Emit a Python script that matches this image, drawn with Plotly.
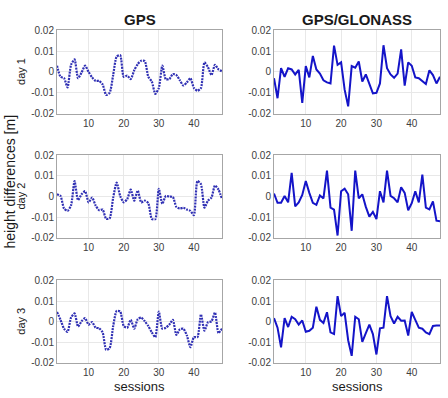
import plotly.graph_objects as go

sessions = list(range(1, 49))

gps_day1 = [0.003, -0.0023, -0.003, -0.0074, 0.0034, 0.006, -0.003, -0.0003, 0.003, 0.0,
            -0.0026, -0.0043, -0.0043, -0.006, -0.011, -0.010, -0.0015, 0.0074, 0.008, -0.0023,
            -0.0018, -0.0034, 0.0008, 0.0038, 0.0054, 0.0052, -0.0023, -0.0046, -0.0105, -0.0077,
            0.003, -0.0035, -0.0034, -0.001, -0.0015, -0.004, -0.0065, -0.005, -0.003, -0.0077,
            -0.009, -0.0077, 0.0046, 0.0023, -0.0015, 0.0034, 0.0012, 0.0003]
glo_day1 = [-0.003, -0.0126, 0.0018, -0.0023, 0.0018, 0.0012, -0.0012, 0.001, -0.0148, 0.0028,
            -0.0026, 0.0077, 0.0012, -0.0008, -0.004, -0.005, -0.0055, 0.0126, 0.0034, 0.0046,
            -0.0085, -0.0165, 0.0028, 0.002, 0.005, -0.0046, -0.0012, -0.006, -0.0103, -0.010,
            -0.0055, 0.0128, 0.0018, -0.0012, -0.0028, -0.0008, 0.0108, -0.0066, 0.0046, 0.003,
            -0.0026, -0.003, -0.0046, -0.0058, 0.0008, -0.0015, -0.0055, -0.0023]
gps_day2 = [0.0011, 0.0003, -0.0058, -0.0069, -0.0043, 0.0075, -0.0017, 0.0011, 0.0026, -0.0028,
            -0.0005, -0.0043, -0.0066, -0.0063, -0.0108, -0.0105, -0.0005, 0.0068, 0.0003, -0.0028,
            -0.0012, 0.0034, -0.002, 0.0029, -0.0028, -0.002, -0.0032, -0.0108, -0.011, 0.0038,
            -0.0035, 0.0003, 0.0, -0.0002, -0.005, -0.0058, -0.0054, -0.0063, -0.0069, -0.009,
            0.0075, 0.006, -0.0054, -0.002, -0.0005, 0.0054, 0.0034, -0.0012]
glo_day2 = [0.0015, -0.003, -0.003, 0.0003, -0.0028, 0.0115, -0.0048, -0.0028, 0.0008, 0.0075,
            0.0018, -0.003, -0.004, 0.0006, -0.0009, 0.0126, -0.0054, -0.0063, -0.0189, 0.0026,
            0.0038, 0.0011, -0.0166, 0.0126, -0.0009, 0.0011, -0.005, -0.0097, -0.0074, -0.0109,
            0.0026, -0.0028, 0.0126, 0.0003, -0.0008, -0.0028, 0.0045, 0.0018, -0.0066, -0.0032,
            0.0026, -0.0028, 0.0106, -0.0054, -0.0062, -0.0023, -0.0117, -0.012]
gps_day3 = [0.0047, 0.0009, -0.0034, -0.0049, 0.002, 0.004, -0.0024, 0.0002, 0.0017, -0.0014,
            -0.0002, -0.0029, -0.0032, -0.0052, -0.0136, -0.0128, -0.0021, 0.0052, 0.005, -0.0021,
            -0.0029, 0.0009, -0.0034, 0.0012, 0.002, 0.0002, -0.0021, -0.0052, -0.0075, 0.0049,
            -0.0034, -0.0029, -0.0014, 0.0009, -0.0064, -0.0037, -0.0034, -0.0067, -0.0124, -0.0075,
            -0.0075, 0.0035, -0.0044, -0.0003, 0.0002, 0.0044, -0.0055, -0.0034]
glo_day3 = [0.0017, -0.0029, -0.0125, 0.0017, -0.0026, 0.0024, 0.0012, -0.0014, 0.0006, -0.0049,
            -0.0044, -0.0029, 0.0073, 0.0009, -0.0006, 0.0046, -0.0052, -0.006, 0.0124, 0.0027,
            0.0043, -0.009, -0.0166, 0.0024, 0.0012, -0.0098, -0.0055, -0.0014, -0.006, -0.0159,
            -0.0032, -0.0029, 0.0124, 0.0027, -0.0009, 0.0024, 0.0005, 0.0006, -0.0067, 0.0047,
            0.0009, -0.0029, -0.0034, -0.0052, -0.006, -0.0021, -0.0018, -0.0018]

col_titles = ["GPS", "GPS/GLONASS"]
row_labels = ["day 1", "day 2", "day 3"]
y_ticks = [-0.02, -0.01, 0, 0.01, 0.02]
y_tick_text = ["-0.02", "-0.01", "0", "0.01", "0.02"]
x_ticks = [10, 20, 30, 40]

W, H = 448, 398
col_px = [(57, 222), (274, 440)]
row_px = [(25, 111), (154, 239), (283, 368)]

series = [[gps_day1, glo_day1], [gps_day2, glo_day2], [gps_day3, glo_day3]]

fig = go.Figure()
font_fam = "Liberation Sans, Arial, sans-serif"
idx = 0
for r in range(3):
    for c in range(2):
        idx += 1
        xa = "x" if idx == 1 else f"x{idx}"
        ya = "y" if idx == 1 else f"y{idx}"
        if c == 0:
            line = dict(color="#3030b4", width=2.2, dash="2px,1px", shape="spline", smoothing=0.6)
        else:
            line = dict(color="#1414c8", width=2)
        fig.add_trace(go.Scatter(x=sessions, y=series[r][c], mode="lines", line=line,
                                 xaxis=xa, yaxis=ya, showlegend=False))
        x0, x1 = col_px[c]
        y0, y1 = row_px[r]
        axcommon = dict(showline=True, mirror=True, linecolor="#a6a6a6", linewidth=1,
                        showgrid=True, gridcolor="#e8e8e8", gridwidth=1, zeroline=False,
                        ticks="", tickfont=dict(size=10, color="#404040", family=font_fam))
        fig.layout[f"xaxis{'' if idx == 1 else idx}"] = dict(
            domain=[x0 / W, x1 / W], anchor=ya, range=[1, 48], tickvals=x_ticks, **axcommon)
        fig.layout[f"yaxis{'' if idx == 1 else idx}"] = dict(
            domain=[1 - y1 / H, 1 - y0 / H], anchor=xa, range=[-0.02, 0.02],
            tickvals=y_ticks, ticktext=y_tick_text, **axcommon)

annotations = []
for c in range(2):
    cx = (col_px[c][0] + col_px[c][1]) / 2 / W
    annotations.append(dict(text="<b>" + col_titles[c] + "</b>", x=cx, y=1 - 14 / H,
                            xref="paper", yref="paper", showarrow=False,
                            font=dict(size=15, color="#1a1a1a", family=font_fam),
                            xanchor="center", yanchor="middle"))
    annotations.append(dict(text="sessions", x=cx, y=1 - 383 / H, xref="paper", yref="paper",
                            showarrow=False, font=dict(size=13, color="#1a1a1a", family=font_fam),
                            xanchor="center", yanchor="top"))
for r in range(3):
    cy = 1 - (row_px[r][0] + row_px[r][1]) / 2 / H
    annotations.append(dict(text=row_labels[r], x=21 / W, y=cy, xref="paper", yref="paper",
                            showarrow=False, textangle=-90,
                            font=dict(size=11, color="#1a1a1a", family=font_fam),
                            xanchor="center", yanchor="middle"))
annotations.append(dict(text="height differences [m]", x=0, y=1 - 181 / H, xref="paper",
                        yref="paper", showarrow=False, textangle=-90,
                        font=dict(size=14, color="#1a1a1a", family=font_fam),
                        xanchor="left", yanchor="middle"))

fig.update_layout(width=W, height=H, margin=dict(l=0, r=0, t=0, b=0),
                  paper_bgcolor="white", plot_bgcolor="white", annotations=annotations)

fig.write_html("out.html")
